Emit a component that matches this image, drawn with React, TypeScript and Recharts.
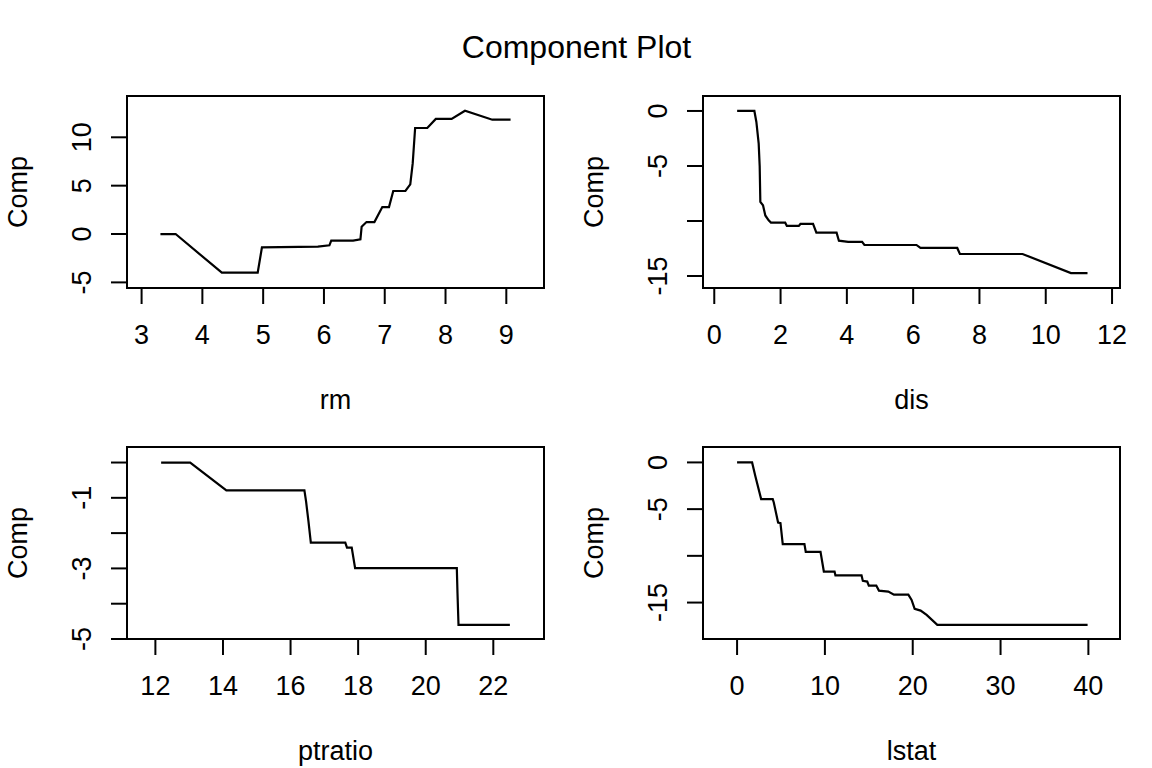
import React from "react";
import { LineChart, Line, XAxis, YAxis, ReferenceArea, Label } from "recharts";

// values (x, Comp) for each predictor
const rmX = [3.31, 3.56, 4.32, 4.91, 4.98, 5.9, 6.09, 6.12, 6.48, 6.6, 6.62, 6.7, 6.83, 6.96, 7.07, 7.14, 7.34, 7.42, 7.46, 7.5, 7.7, 7.84, 8.1, 8.32, 8.77, 9.07];
const rmComp = [0, 0, -4.0, -4.0, -1.38, -1.3, -1.17, -0.69, -0.69, -0.55, 0.76, 1.24, 1.24, 2.79, 2.79, 4.45, 4.45, 5.14, 7.3, 10.96, 10.96, 11.9, 11.9, 12.75, 11.82, 11.82];

const disX = [0.69, 1.21, 1.27, 1.34, 1.37, 1.39, 1.47, 1.54, 1.64, 1.71, 2.14, 2.19, 2.55, 2.6, 2.98, 3.08, 3.69, 3.76, 4.04, 4.46, 4.53, 6.1, 6.22, 7.33, 7.41, 9.3, 10.76, 11.26];
const disComp = [0, 0, -1.0, -2.97, -5.0, -8.27, -8.57, -9.5, -9.94, -10.15, -10.15, -10.45, -10.45, -10.27, -10.27, -11.06, -11.06, -11.79, -11.9, -11.9, -12.18, -12.18, -12.45, -12.45, -13.0, -13.0, -14.73, -14.73];

const ptratioX = [12.17, 13.03, 14.1, 16.41, 16.46, 16.53, 16.6, 17.62, 17.67, 17.81, 17.91, 20.92, 20.94, 20.97, 22.49];
const ptratioComp = [0, 0, -0.79, -0.79, -1.11, -1.67, -2.27, -2.27, -2.41, -2.41, -2.99, -2.99, -3.7, -4.6, -4.6];

const lstatX = [0, 1.71, 2.09, 2.74, 4.06, 4.18, 4.67, 4.94, 5.2, 7.67, 7.82, 9.5, 9.88, 11.1, 11.2, 14.17, 14.32, 14.82, 15.0, 15.85, 16.15, 17.22, 17.86, 19.5, 19.87, 20.22, 20.9, 21.58, 22.8, 39.91];
const lstatComp = [0, 0, -1.5, -3.93, -3.93, -4.29, -6.43, -6.5, -8.75, -8.75, -9.57, -9.57, -11.68, -11.68, -12.1, -12.1, -12.68, -12.75, -13.18, -13.18, -13.72, -13.82, -14.15, -14.15, -14.71, -15.68, -15.86, -16.32, -17.39, -17.39];

// tick values, and which y ticks get a label (R drops overlapping ones)
const rmXTicks = [3, 4, 5, 6, 7, 8, 9];
const rmYTicks = [-5, 0, 5, 10];
const rmYLabels = [-5, 0, 5, 10];
const disXTicks = [0, 2, 4, 6, 8, 10, 12];
const disYTicks = [-15, -10, -5, 0];
const disYLabels = [-15, -5, 0];
const ptratioXTicks = [12, 14, 16, 18, 20, 22];
const ptratioYTicks = [-5, -4, -3, -2, -1, 0];
const ptratioYLabels = [-5, -3, -1];
const lstatXTicks = [0, 10, 20, 30, 40];
const lstatYTicks = [-15, -10, -5, 0];
const lstatYLabels = [-15, -5, 0];

const FONT = '"Liberation Sans", Arial, Helvetica, sans-serif';
const FS = 27;
const PW = 576;
const YW = 100;
const XH = 90;

const zip = (xs: number[], ys: number[]) => xs.map((x, i) => ({ x, y: ys[i] }));

type PanelProps = {
  data: { x: number; y: number }[];
  xDomain: [number, number];
  yDomain: [number, number];
  xTicks: number[];
  yTicks: number[];
  yLabels: number[];
  xLabel: string;
  left: number;
  top: number;
  boxTop: number;
  boxBottom: number;
};

function Panel(p: PanelProps) {
  const height = p.boxBottom + XH + 50;
  const XTick = (props: any) => (
    <text x={props.x} y={props.y + 38} textAnchor="middle" fontSize={FS} fontFamily={FONT} fill="#000">
      {props.payload.value}
    </text>
  );
  const YTick = (props: any) => {
    const v = props.payload.value;
    if (!p.yLabels.includes(v)) return <g />;
    const bx = props.x - 18;
    return (
      <text x={bx} y={props.y} transform={`rotate(-90, ${bx}, ${props.y})`} textAnchor="middle" fontSize={FS} fontFamily={FONT} fill="#000">
        {String(v)}
      </text>
    );
  };
  return (
    <div style={{ position: "absolute", left: p.left, top: p.top }}>
      <LineChart
        width={PW}
        height={height}
        data={p.data}
        margin={{ top: p.boxTop, right: PW - 544, left: 127 - YW, bottom: height - p.boxBottom - XH }}
      >
        <XAxis
          dataKey="x"
          type="number"
          domain={p.xDomain}
          ticks={p.xTicks}
          interval={0}
          allowDataOverflow
          axisLine={false}
          tickSize={16}
          tickLine={{ stroke: "#000", strokeWidth: 2 }}
          tick={<XTick />}
          height={XH}
        >
          <Label
            content={(lp: any) => {
              const vb = lp.viewBox || {};
              return (
                <text x={vb.x + vb.width / 2} y={vb.y + 121} textAnchor="middle" fontSize={FS} fontFamily={FONT} fill="#000">
                  {p.xLabel}
                </text>
              );
            }}
          />
        </XAxis>
        <YAxis
          type="number"
          domain={p.yDomain}
          ticks={p.yTicks}
          interval={0}
          allowDataOverflow
          axisLine={false}
          tickSize={16}
          tickLine={{ stroke: "#000", strokeWidth: 2 }}
          tick={<YTick />}
          width={YW}
        >
          <Label
            content={(lp: any) => {
              const vb = lp.viewBox || {};
              const cy = vb.y + vb.height / 2;
              return (
                <text x={vb.x} y={cy} transform={`rotate(-90, ${vb.x}, ${cy})`} textAnchor="middle" fontSize={FS} fontFamily={FONT} fill="#000">
                  Comp
                </text>
              );
            }}
          />
        </YAxis>
        <ReferenceArea
          x1={p.xDomain[0]}
          x2={p.xDomain[1]}
          y1={p.yDomain[0]}
          y2={p.yDomain[1]}
          fill="none"
          stroke="#000"
          strokeWidth={2}
          ifOverflow="visible"
        />
        <Line type="linear" dataKey="y" stroke="#000" strokeWidth={2.2} dot={false} isAnimationActive={false} />
      </LineChart>
    </div>
  );
}

export default function App() {
  return (
    <div style={{ position: "absolute", left: 0, top: 0, width: 1152, height: 768, background: "#fff", overflow: "hidden" }}>
      <Panel
        data={zip(rmX, rmComp)}
        xDomain={[2.76, 9.62]}
        yDomain={[-5.58, 14.27]}
        xTicks={rmXTicks}
        yTicks={rmYTicks}
        yLabels={rmYLabels}
        xLabel="rm"
        left={0}
        top={0}
        boxTop={96}
        boxBottom={288}
      />
      <Panel
        data={zip(disX, disComp)}
        xDomain={[-0.34, 12.24]}
        yDomain={[-16.09, 1.36]}
        xTicks={disXTicks}
        yTicks={disYTicks}
        yLabels={disYLabels}
        xLabel="dis"
        left={576}
        top={0}
        boxTop={96}
        boxBottom={288}
      />
      <Panel
        data={zip(ptratioX, ptratioComp)}
        xDomain={[11.16, 23.5]}
        yDomain={[-5.0, 0.44]}
        xTicks={ptratioXTicks}
        yTicks={ptratioYTicks}
        yLabels={ptratioYLabels}
        xLabel="ptratio"
        left={0}
        top={384}
        boxTop={63}
        boxBottom={255}
      />
      <Panel
        data={zip(lstatX, lstatComp)}
        xDomain={[-3.88, 43.6]}
        yDomain={[-18.9, 1.65]}
        xTicks={lstatXTicks}
        yTicks={lstatYTicks}
        yLabels={lstatYLabels}
        xLabel="lstat"
        left={576}
        top={384}
        boxTop={63}
        boxBottom={255}
      />
      <svg width={1152} height={80} style={{ position: "absolute", left: 0, top: 0, pointerEvents: "none" }}>
        <text x={576.5} y={58} textAnchor="middle" fontSize={32} fontFamily={FONT} fill="#000">
          Component Plot
        </text>
      </svg>
    </div>
  );
}
